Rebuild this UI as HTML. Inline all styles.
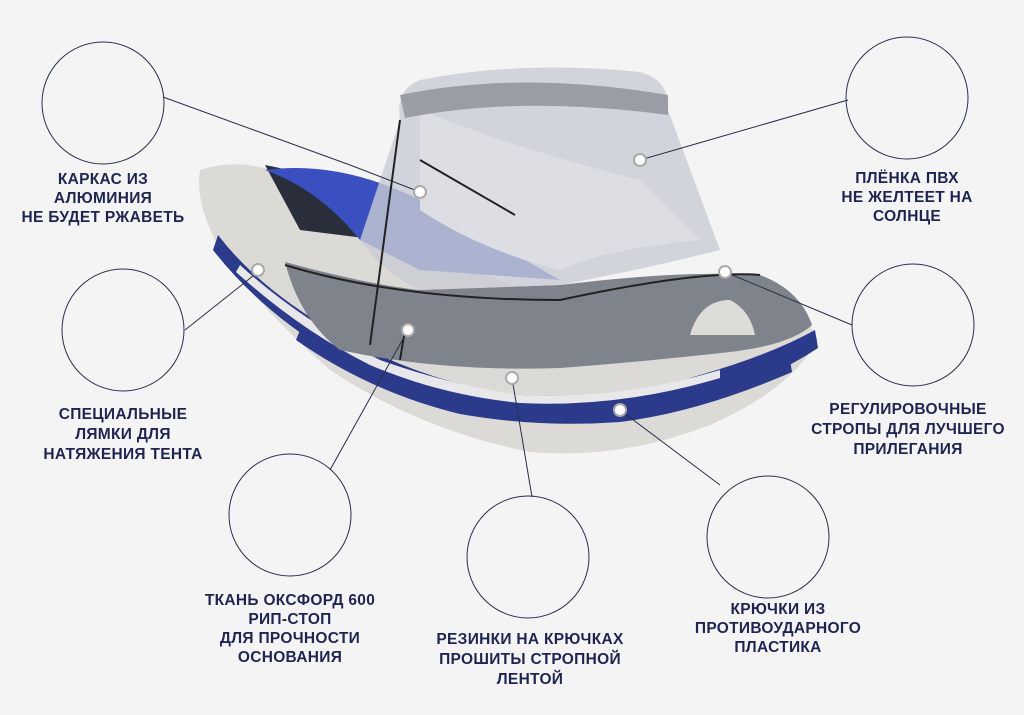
<!DOCTYPE html>
<html><head><meta charset="utf-8"><style>
body{margin:0;width:1024px;height:715px;background:#f4f4f4;position:relative;overflow:hidden;font-family:"Liberation Sans",sans-serif}
.t{position:absolute;color:#1f2550;font-size:15.5px;font-weight:bold;text-align:center;line-height:19px;letter-spacing:0.3px;transform:translateX(-50%);white-space:nowrap}
svg{position:absolute;left:0;top:0}
</style></head><body>
<svg width="1024" height="715">
<!-- boat hull -->
<path d="M200,170 Q195,200 215,240 Q250,300 330,370 Q420,430 530,452 Q620,460 710,425 Q790,390 818,340 L805,315 Q700,300 560,300 Q420,260 330,200 Q260,150 200,170Z" fill="#dcdad6"/>
<path d="M218,235 Q260,290 340,335 Q430,385 520,395 Q620,400 700,375 Q770,355 815,330 L818,348 Q770,380 700,400 Q610,420 520,412 Q420,400 330,352 Q260,310 213,250Z" fill="#2b3a8a"/>
<path d="M300,330 Q380,380 460,400 Q540,415 620,410 Q700,398 790,360 L792,372 Q700,412 620,422 Q540,428 460,414 Q370,392 296,340Z" fill="#2b3a8a"/>
<path d="M240,265 Q300,320 380,360 Q450,385 520,395 Q620,400 720,370 L720,378 Q620,408 520,403 Q440,395 370,365 Q300,330 236,272Z" fill="#e8e8ea"/>
<!-- interior -->
<path d="M265,165 Q320,175 360,200 L380,240 L300,230Z" fill="#2a2d3a"/>
<path d="M265,170 Q320,190 360,240 L420,270 L560,280 L420,200 Q340,160 265,170Z" fill="#3a4fc0"/>
<!-- canopy grey front -->
<path d="M285,262 Q370,285 420,290 L560,285 Q680,270 760,275 Q800,290 812,325 Q790,345 730,352 Q640,362 560,368 Q440,372 340,350 Q300,320 285,262Z" fill="#7f838b"/>
<path d="M690,335 Q700,300 730,300 Q750,310 755,335Z" fill="#dedcd8"/>
<!-- transparent windshield -->
<path d="M400,120 Q395,90 420,80 Q520,60 640,72 Q670,80 668,110 L720,250 Q640,270 560,285 L420,290 Q380,270 360,240 Z" fill="#c9ccd4" opacity="0.8"/>
<path d="M420,110 Q520,150 640,180 L700,240 Q600,250 560,270 Q480,250 420,210Z" fill="#dcdee3"/>
<path d="M400,95 Q520,70 668,95 L668,115 Q520,95 405,118Z" fill="#9a9da5"/>
<path d="M400,120 L370,345 M420,160 L515,215 M405,330 L400,360" stroke="#222" stroke-width="2" fill="none"/>
<path d="M285,265 Q400,300 560,300 Q700,270 760,275" stroke="#222" stroke-width="2" fill="none"/>
<!-- connectors -->
<g stroke="#2a2f4a" stroke-width="1" fill="none">
<circle cx="103" cy="103" r="61"/><circle cx="907" cy="98" r="61"/>
<circle cx="123" cy="330" r="61"/><circle cx="913" cy="325" r="61"/>
<circle cx="290" cy="515" r="61"/><circle cx="528" cy="557" r="61"/>
<circle cx="768" cy="537" r="61"/>
<path d="M163,97 L350,165 L420,192"/>
<path d="M848,100 L640,160"/>
<path d="M185,330 L258,272"/>
<path d="M852,325 L725,272"/>
<path d="M330,470 L408,330"/>
<path d="M532,497 L512,378"/>
<path d="M720,485 L620,410"/>
</g>
<g fill="#fff" stroke="#aaa" stroke-width="2">
<circle cx="420" cy="192" r="6"/><circle cx="640" cy="160" r="6"/><circle cx="258" cy="270" r="6"/>
<circle cx="725" cy="272" r="6"/><circle cx="408" cy="330" r="6"/><circle cx="512" cy="378" r="6"/><circle cx="620" cy="410" r="6"/>
</g>
</svg>
<div class="t" style="left:103px;top:170px">КАРКАС ИЗ<br>АЛЮМИНИЯ<br>НЕ БУДЕТ РЖАВЕТЬ</div>
<div class="t" style="left:907px;top:169px">ПЛЁНКА ПВХ<br>НЕ ЖЕЛТЕЕТ НА<br>СОЛНЦЕ</div>
<div class="t" style="left:123px;top:405px;line-height:20px">СПЕЦИАЛЬНЫЕ<br>ЛЯМКИ ДЛЯ<br>НАТЯЖЕНИЯ ТЕНТА</div>
<div class="t" style="left:908px;top:400px;line-height:20px">РЕГУЛИРОВОЧНЫЕ<br>СТРОПЫ ДЛЯ ЛУЧШЕГО<br>ПРИЛЕГАНИЯ</div>
<div class="t" style="left:290px;top:591px">ТКАНЬ ОКСФОРД 600<br>РИП-СТОП<br>ДЛЯ ПРОЧНОСТИ<br>ОСНОВАНИЯ</div>
<div class="t" style="left:530px;top:630px;line-height:20px">РЕЗИНКИ НА КРЮЧКАХ<br>ПРОШИТЫ СТРОПНОЙ<br>ЛЕНТОЙ</div>
<div class="t" style="left:778px;top:600px">КРЮЧКИ ИЗ<br>ПРОТИВОУДАРНОГО<br>ПЛАСТИКА</div>
</body></html>
